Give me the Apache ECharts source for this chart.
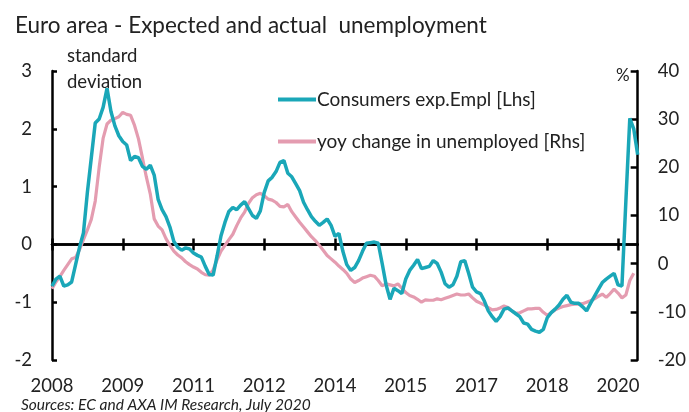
<!DOCTYPE html>
<html>
<head>
<meta charset="utf-8">
<script src="https://cdn.jsdelivr.net/npm/echarts@6/dist/echarts.min.js"></script>
<style>
  html, body { margin: 0; padding: 0; background: #fff; }
  #main { width: 689px; height: 412px; }
</style>
</head>
<body>
<div id="main"></div>
<script>
// monthly categories Jan 2008 - Jun 2020
var months = [];
for (var y = 2008; y <= 2020; y++) {
  for (var m = 1; m <= 12; m++) {
    if (y === 2020 && m > 6) break;
    months.push(y + '-' + (m < 10 ? '0' + m : m));
  }
}

// Consumers exp.Empl, standard deviation (left axis)
var consumersExp = [
  -0.72, -0.6, -0.55, -0.72, -0.7, -0.65, -0.35, -0.05, 0.2, 0.9,
  1.5, 2.1, 2.17, 2.37, 2.7, 2.3, 2.05, 1.88, 1.78, 1.72,
  1.45, 1.52, 1.5, 1.35, 1.3, 1.37, 1.2, 0.78, 0.6, 0.48,
  0.3, 0.05, -0.05, -0.1, -0.06, -0.08, -0.15, -0.19, -0.22, -0.38,
  -0.52, -0.53, -0.2, 0.15, 0.38, 0.57, 0.64, 0.6, 0.68, 0.74,
  0.62, 0.5, 0.45, 0.58, 0.9, 1.1, 1.16, 1.26, 1.42, 1.45,
  1.23, 1.17, 1.05, 0.93, 0.73, 0.6, 0.48, 0.4, 0.33, 0.38,
  0.44, 0.33, 0.14, 0.19, -0.12, -0.35, -0.45, -0.4, -0.28, -0.12,
  0.02, 0.03, 0.04, 0.02, -0.33, -0.7, -0.95, -0.76, -0.8, -0.85,
  -0.6, -0.45, -0.36, -0.26, -0.42, -0.4, -0.38, -0.28, -0.33, -0.48,
  -0.68, -0.74, -0.7, -0.55, -0.3, -0.28, -0.5, -0.74, -0.82, -0.85,
  -0.98, -1.15, -1.25, -1.33, -1.25, -1.12, -1.1, -1.15, -1.2, -1.25,
  -1.36, -1.38, -1.47, -1.5, -1.52, -1.47, -1.27, -1.18, -1.12, -1.05,
  -0.95, -0.88, -1.0, -1.02, -1.02, -1.08, -1.15, -1.02, -0.9, -0.78,
  -0.66, -0.6, -0.55, -0.5, -0.7, -0.72, 0.75, 2.18, 2.0, 1.55
];

// yoy change in unemployed, % (right axis)
var unemployedYoy = [
  -5.2, -3.8, -2.7, -1.4, -0.2, 1.0, 1.3, 2.9, 5.0, 7.0,
  9.2, 13.0, 20.0, 26.0, 29.0, 29.8, 30.1, 30.5, 31.4, 31.0,
  30.8, 28.7, 25.9, 22.0, 18.0, 14.5, 9.3, 7.8, 7.0, 5.2,
  3.8, 2.6, 1.8, 1.2, 0.4, -0.2, -0.7, -1.1, -1.8, -2.3,
  -2.4, -1.3, 0.8, 2.6, 3.8, 5.0, 6.1, 7.9, 9.5, 10.7,
  12.5, 13.7, 14.3, 14.6, 14.1, 13.4, 13.2, 12.7, 11.9, 11.8,
  12.3, 10.8, 9.7, 8.6, 7.6, 6.6, 5.6, 4.8, 3.8, 2.8,
  1.7, 1.0, 0.3, -0.5, -1.2, -2.0, -3.2, -3.9, -3.5, -3.0,
  -2.7, -2.4, -2.6, -3.5, -4.6, -4.2, -4.4, -4.6, -4.2, -5.1,
  -6.0, -6.6, -6.9, -7.4, -8.0, -7.5, -7.6, -7.6, -7.3, -7.5,
  -7.2, -6.9, -6.6, -6.3, -6.5, -6.5, -6.3, -7.1, -7.8, -8.2,
  -8.6, -9.1, -9.6, -9.5, -9.2, -8.8, -9.1, -9.8, -10.3, -10.2,
  -9.8, -9.4, -9.4, -9.3, -9.3, -10.1, -10.7, -10.2, -9.6, -9.2,
  -8.9, -8.7, -8.5, -8.4, -8.4, -8.3, -8.0, -7.7, -7.3, -6.8,
  -6.3, -7.0, -6.2, -5.3, -6.1, -7.1, -6.5, -3.5, -2.0, null
];

var font = 'Lato, "Open Sans", sans-serif';
var chart = echarts.init(document.getElementById('main'));

var zeroAxis = function (inside) {
  return {
    type: 'category',
    data: months,
    boundaryGap: false,
    axisLine: { onZero: true, onZeroAxisIndex: 0, lineStyle: { color: '#000', width: 2.5 } },
    axisTick: { show: true, inside: inside, interval: 17, length: 6, lineStyle: { color: '#000', width: 2.5 } },
    axisLabel: { show: false },
    splitLine: { show: false }
  };
};

var option = {
  animation: false,
  textStyle: { fontFamily: font },
  title: {
    text: 'Euro area - Expected and actual  unemployment',
    left: 10, top: 9,
    textStyle: { fontFamily: font, fontSize: 22.5, fontWeight: 'normal', color: '#222' }
  },
  legend: {
    orient: 'vertical',
    left: 273, top: 85,
    itemWidth: 38, itemHeight: 4, itemGap: 23,
    icon: 'rect',
    textStyle: { fontFamily: font, fontSize: 19, color: '#222', padding: [0, 0, 0, -4] },
    data: ['Consumers exp.Empl [Lhs]', 'yoy change in unemployed [Rhs]']
  },
  grid: { left: 52, right: 49, top: 71, bottom: 52 },
  xAxis: [
    {
      type: 'category',
      data: months,
      boundaryGap: false,
      position: 'bottom',
      axisLine: { show: false, onZero: false },
      axisTick: { show: false },
      axisLabel: {
        interval: 17, margin: 17, fontSize: 18.5, color: '#222', fontFamily: font,
        formatter: function (v) { return v.slice(0, 4); }
      },
      splitLine: { show: false }
    },
    zeroAxis(false),
    zeroAxis(true)
  ],
  yAxis: [
    {
      type: 'value', min: -2, max: 3, interval: 1,
      axisLine: { show: true, lineStyle: { color: '#000', width: 2.5 } },
      axisTick: { show: true, inside: true, length: 5, lineStyle: { color: '#000', width: 2.5 } },
      axisLabel: { margin: 20, fontSize: 18.5, color: '#222', fontFamily: font },
      splitLine: { show: false }
    },
    {
      type: 'value', min: -20, max: 40, interval: 10, position: 'right',
      axisLine: { show: true, lineStyle: { color: '#000', width: 2.5 } },
      axisTick: { show: true, inside: true, length: 7, lineStyle: { color: '#000', width: 2.5 } },
      axisLabel: { margin: 20, fontSize: 18.5, color: '#222', fontFamily: font },
      splitLine: { show: false }
    }
  ],
  graphic: [
    { type: 'text', left: 67, top: 47, style: { text: 'standard', font: '18.5px ' + font, fill: '#222' } },
    { type: 'text', left: 67, top: 73, style: { text: 'deviation', font: '18.5px ' + font, fill: '#222' } },
    { type: 'text', left: 616, top: 67, style: { text: '%', font: '17px ' + font, fill: '#222' } },
    { type: 'text', left: 21, top: 397, style: { text: 'Sources: EC and AXA IM Research, July 2020', font: 'italic 15.5px ' + font, fill: '#222' } }
  ],
  series: [
    {
      name: 'yoy change in unemployed [Rhs]',
      type: 'line',
      xAxisIndex: 0, yAxisIndex: 1,
      data: unemployedYoy,
      showSymbol: false,
      color: '#e49cb0',
      lineStyle: { width: 3.2, color: '#e49cb0' },
      z: 2
    },
    {
      name: 'Consumers exp.Empl [Lhs]',
      type: 'line',
      xAxisIndex: 0, yAxisIndex: 0,
      data: consumersExp,
      showSymbol: false,
      color: '#1aa7b8',
      lineStyle: { width: 3.5, color: '#1aa7b8' },
      z: 3
    }
  ]
};
chart.setOption(option);
</script>
</body>
</html>
